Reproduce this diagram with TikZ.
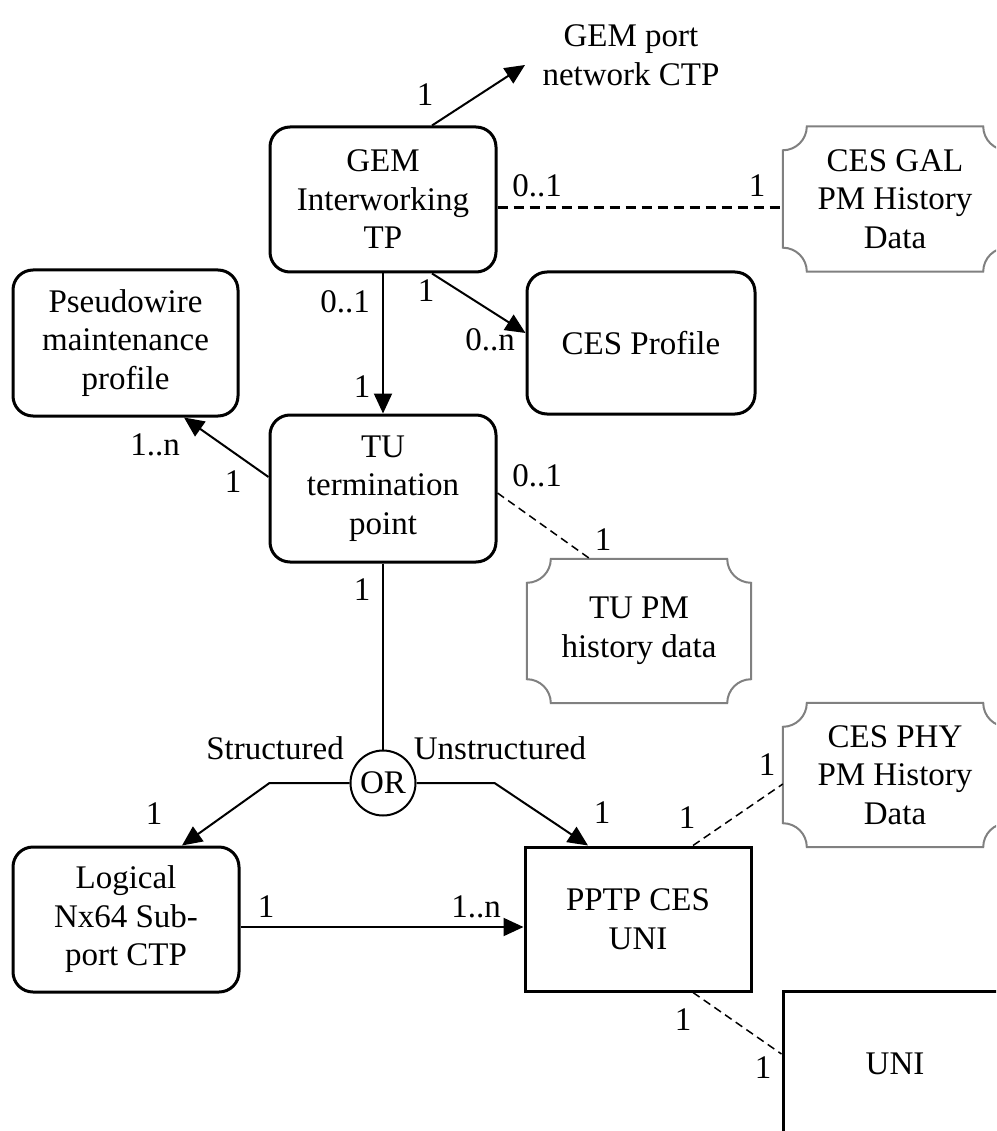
\documentclass[tikz,border=0pt]{standalone}
\usepackage{fontspec}
\setmainfont{Liberation Serif}
\usetikzlibrary{arrows.meta,calc}

% Grey frame with concave (scalloped) corners around a named node
\newcommand{\pmframe}[1]{%
  \draw[pmline]
    ($(#1.north west)+(24,0)$) -- ($(#1.north east)+(-24,0)$)
    .. controls ($(#1.north east)+(-24,13.25)$) and ($(#1.north east)+(-13.25,24)$) .. ($(#1.north east)+(0,24)$)
    -- ($(#1.south east)+(0,-24)$)
    .. controls ($(#1.south east)+(-13.25,-24)$) and ($(#1.south east)+(-24,-13.25)$) .. ($(#1.south east)+(-24,0)$)
    -- ($(#1.south west)+(24,0)$)
    .. controls ($(#1.south west)+(24,-13.25)$) and ($(#1.south west)+(13.25,-24)$) .. ($(#1.south west)+(0,-24)$)
    -- ($(#1.north west)+(0,24)$)
    .. controls ($(#1.north west)+(13.25,24)$) and ($(#1.north west)+(24,13.25)$) .. ($(#1.north west)+(24,0)$)
    -- cycle;}

\tikzset{
  every node/.style={font=\fontsize{33}{38.5}\selectfont, inner sep=0pt},
  rbox/.style={draw, line width=3pt, rounded corners=20pt, align=center,
    minimum width=226pt, minimum height=145pt},
  sbox/.style={draw, line width=3pt, align=center,
    minimum width=226pt, minimum height=145pt},
  pmbox/.style={align=center, minimum width=224pt, minimum height=145pt},
  pmline/.style={draw=black!50, line width=2pt},
  conn/.style={line width=2pt},
  arr/.style={conn, -{Triangle[length=20pt,width=18pt]}},
  thickdash/.style={line width=3pt, dash pattern=on 10pt off 6pt},
  thindash/.style={line width=1.5pt, dash pattern=on 8pt off 5pt},
  ornode/.style={draw, circle, line width=2pt, minimum size=65pt}
}

\begin{document}
\begin{tikzpicture}[x=1pt,y=-1pt]
\clip (0,0) rectangle (996,1131);

% boxes
\node[rbox] (gem) at (383,199.5) {GEM\\Interworking\\TP};
\node[pmbox] (gal) at (895,199) {CES GAL\\PM History\\Data};
\pmframe{gal}
\node[rbox, minimum width=225pt, minimum height=146pt] (pw) at (125.5,343) {Pseudowire\\maintenance\\profile};
\node[rbox, minimum width=228pt, minimum height=142pt] (cesprof) at (641,343) {CES Profile};
\node[rbox, minimum height=147pt] (tu) at (383,488.5) {TU\\termination\\point};
\node[pmbox, minimum height=144pt] (tupm) at (639,631) {TU PM\\history data};
\pmframe{tupm}
\node[ornode] (orn) at (383,783) {OR};
\node[rbox] (logical) at (126,919.5) {Logical\\Nx64 Sub-\\port CTP};
\node[sbox, minimum height=144pt] (pptp) at (638,919) {PPTP CES\\UNI};
\node[pmbox, minimum height=144pt] (phy) at (895,775) {CES PHY\\PM History\\Data};
\pmframe{phy}
\node[sbox, minimum width=224pt] (uni) at (895,1063.5) {UNI};

% free-standing target
\node[align=center] (gemport) at (631,55) {GEM port\\network CTP};
\coordinate (gemportend) at (525,65);

% connectors
\draw[arr] ($(gem.north)+(49,0)$) -- (gemportend);
\coordinate (galy) at (0,208);
\draw[thickdash] (gem.east |- galy) -- (gal.west |- galy);
\draw[arr] (gem.south) -- (tu.north);
\draw[arr] ($(gem.south)+(49,0)$) -- ($(cesprof.west)+(0,-10)$);
\draw[arr] ($(tu.west)+(0,-11.5)$) -- ($(pw.south)+(58.5,0)$);
\draw[thindash] ($(tu.east)+(0,4.5)$) -- ($(tupm.north)+(-49,0)$);
\draw[conn] (tu.south) -- (orn.north);
\draw[arr] (orn.west) -- ($(orn.west)+(-80,0)$) -- ($(logical.north)+(56,0)$);
\draw[arr] (orn.east) -- ($(orn.east)+(78,0)$) -- ($(pptp.north)+(-50,0)$);
\coordinate (ly) at (0,927);
\draw[arr] (logical.east |- ly) -- (pptp.west |- ly);
\draw[thindash] ($(pptp.north)+(55,0)$) -- ($(phy.west)+(0,9)$);
\draw[thindash] ($(pptp.south)+(55,0)$) -- ($(uni.west)+(0,-9.5)$);

% multiplicities and branch names
\node (m1) at (425,95) {1};
\node (m2) at (537,186) {0..1};
\node (m3) at (757,186) {1};
\node (m4) at (345,302) {0..1};
\node (m5) at (362,387) {1};
\node (m6) at (426,291) {1};
\node (m7) at (490,340) {0..n};
\node (m8) at (155,445) {1..n};
\node (m9) at (233,482) {1};
\node (m10) at (537,476) {0..1};
\node (m11) at (603,540) {1};
\node (m12) at (362,590) {1};
\node (st) at (275,748) {Structured};
\node (ust) at (500,748) {Unstructured};
\node (m13) at (154,814) {1};
\node (m14) at (602,813) {1};
\node (m15) at (266,907) {1};
\node (m16) at (476,907) {1..n};
\node (m17) at (767,765) {1};
\node (m18) at (687,818) {1};
\node (m19) at (683,1020) {1};
\node (m20) at (763,1068) {1};
\end{tikzpicture}
\end{document}
